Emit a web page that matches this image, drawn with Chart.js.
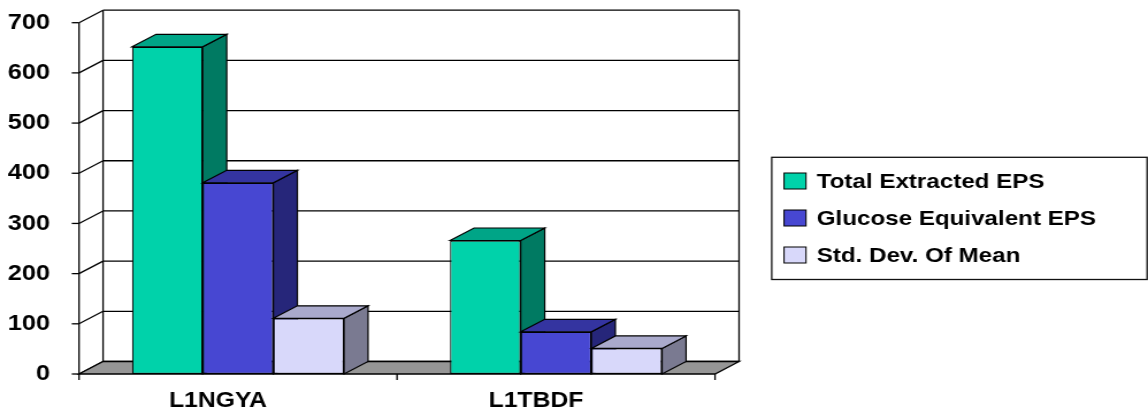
<!DOCTYPE html>
<html>
<head>
<meta charset="utf-8">
<script src="https://cdn.jsdelivr.net/npm/chart.js@4.4.1/dist/chart.umd.min.js"></script>
<style>
  html, body { margin: 0; padding: 0; background: #fff; overflow: hidden; }
  /* the chart is laid out on a narrower canvas and widened to the page */
  #c { display: block; width: 1148px; height: 416px; }
</style>
</head>
<body>
<canvas id="c" width="998" height="416" style="width:1148px;height:416px"></canvas>
<script>
// ---- data ----
const categories = ['L1NGYA', 'L1TBDF'];
const seriesNames = ['Total Extracted EPS', 'Glucose Equivalent EPS', 'Std. Dev. Of Mean'];
const totalExtracted = [652, 266];
const glucoseEquivalent = [381, 84];
const stdDevOfMean = [111, 51];
const yTickValues = [0, 100, 200, 300, 400, 500, 600, 700];

// ---- styling ----
const faces = [
  { front: '#00D2AA', top: '#00A587', side: '#007A62' },
  { front: '#4747D2', top: '#3434A0', side: '#26267A' },
  { front: '#D8D8FA', top: '#AAAACC', side: '#7A7A91' }
];
const DEPTH_X = 20.9;   // oblique depth offset
const DEPTH_Y = -12.5;
const FONT = '"Liberation Sans", Arial, sans-serif';

function seg(ctx, x1, y1, x2, y2) {
  ctx.beginPath();
  ctx.moveTo(x1, y1);
  ctx.lineTo(x2, y2);
  ctx.stroke();
}
function poly(ctx, pts, fill) {
  ctx.beginPath();
  ctx.moveTo(pts[0][0], pts[0][1]);
  for (let i = 1; i < pts.length; i++) ctx.lineTo(pts[i][0], pts[i][1]);
  ctx.closePath();
  ctx.fillStyle = fill;
  ctx.fill();
  ctx.stroke();
}

// walls, floor and extruded columns
const box3d = {
  id: 'box3d',
  beforeDatasetsDraw(chart) {
    const ctx = chart.ctx;
    const { left, right, top, bottom } = chart.chartArea;
    const ys = chart.scales.y;
    const xs = chart.scales.x;
    ctx.save();
    ctx.strokeStyle = '#000';
    ctx.lineWidth = 1.3;
    ctx.lineJoin = 'miter';

    // back wall grid, side-wall diagonals and axis tick marks
    ys.ticks.forEach(t => {
      const py = ys.getPixelForValue(t.value);
      seg(ctx, left, py, left + DEPTH_X, py + DEPTH_Y);
      seg(ctx, left + DEPTH_X, py + DEPTH_Y, right + DEPTH_X, py + DEPTH_Y);
      seg(ctx, left - 6.3, py, left, py);
    });
    seg(ctx, left + DEPTH_X, top + DEPTH_Y, left + DEPTH_X, bottom + DEPTH_Y);
    seg(ctx, right + DEPTH_X, top + DEPTH_Y, right + DEPTH_X, bottom + DEPTH_Y);
    seg(ctx, left, top, left, bottom);

    // floor
    poly(ctx, [[left, bottom], [right, bottom], [right + DEPTH_X, bottom + DEPTH_Y], [left + DEPTH_X, bottom + DEPTH_Y]], '#969696');

    // category boundary ticks
    const n = xs.ticks.length;
    for (let i = 0; i <= n; i++) {
      const px = left + i * (right - left) / n;
      seg(ctx, px, bottom, px, bottom + 6);
    }

    // columns, left to right so each one hides its neighbour's side face
    chart.data.datasets.forEach((ds, di) => {
      const meta = chart.getDatasetMeta(di);
      meta.data.forEach(el => {
        const p = el.getProps(['x', 'y', 'base', 'width'], true);
        const l = p.x - p.width / 2, r = p.x + p.width / 2;
        const t = p.y, b = p.base;
        ctx.lineWidth = 1.2;
        ctx.strokeStyle = '#000';
        poly(ctx, [[r, t], [r + DEPTH_X, t + DEPTH_Y], [r + DEPTH_X, b + DEPTH_Y], [r, b]], faces[di].side);
        poly(ctx, [[l, t], [l + DEPTH_X, t + DEPTH_Y], [r + DEPTH_X, t + DEPTH_Y], [r, t]], faces[di].top);
        el.draw(ctx);
      });
    });
    ctx.restore();
    return false;
  }
};

// framed legend on the right
const boxedLegend = {
  id: 'boxedLegend',
  afterDraw(chart) {
    const ctx = chart.ctx;
    const L = 670.9, T = 157.3, R = 997.2, B = 279.5;
    ctx.save();
    ctx.strokeStyle = '#111';
    ctx.lineWidth = 1.3;
    ctx.strokeRect(L, T, R - L, B - T);
    ctx.font = 'bold 21px ' + FONT;
    ctx.textBaseline = 'middle';
    ctx.textAlign = 'left';
    chart.data.datasets.forEach((ds, i) => {
      const cy = 181 + i * 37;
      ctx.fillStyle = ds.backgroundColor;
      ctx.fillRect(681.6, cy - 8, 19.1, 16);
      ctx.lineWidth = 1;
      ctx.strokeStyle = '#000';
      ctx.strokeRect(681.6, cy - 8, 19.1, 16);
      ctx.fillStyle = '#000';
      ctx.fillText(ds.label, 710, cy + 1);
    });
    ctx.restore();
  }
};

const seriesValues = [totalExtracted, glucoseEquivalent, stdDevOfMean];

new Chart(document.getElementById('c'), {
  type: 'bar',
  data: {
    labels: categories,
    datasets: seriesNames.map((name, i) => ({
      label: name,
      data: seriesValues[i],
      backgroundColor: faces[i].front,
      borderColor: '#000',
      borderWidth: 1.2,
      borderSkipped: false,
      categoryPercentage: 3 / 4.5,
      barPercentage: 1.0
    }))
  },
  options: {
    responsive: false,
    animation: false,
    devicePixelRatio: 1,
    layout: { padding: { left: 0, right: 376.4, top: 22.7, bottom: 0 } },
    plugins: { legend: { display: false }, tooltip: { enabled: false } },
    scales: {
      x: {
        grid: { display: false, drawTicks: false },
        border: { display: false },
        ticks: {
          color: '#000',
          font: { family: FONT, size: 21.5, weight: 'bold' },
          padding: 14,
          labelOffset: -17.4,
          maxRotation: 0,
          autoSkip: false
        },
        afterFit(scale) {
          scale.height = 42;
          scale.paddingLeft = 0;
          scale.paddingRight = 0;
        }
      },
      y: {
        min: 0,
        max: 700,
        grid: { display: false, drawTicks: false },
        border: { display: false },
        ticks: {
          stepSize: 100,
          color: '#000',
          font: { family: FONT, size: 22, weight: 'bold' },
          padding: 25.2,
          callback: (v) => yTickValues.includes(v) ? String(v) : ''
        },
        afterFit(scale) {
          scale.width = 68.68;
          scale.paddingTop = 0;
          scale.paddingBottom = 0;
        }
      }
    }
  },
  plugins: [box3d, boxedLegend]
});
</script>
</body>
</html>
